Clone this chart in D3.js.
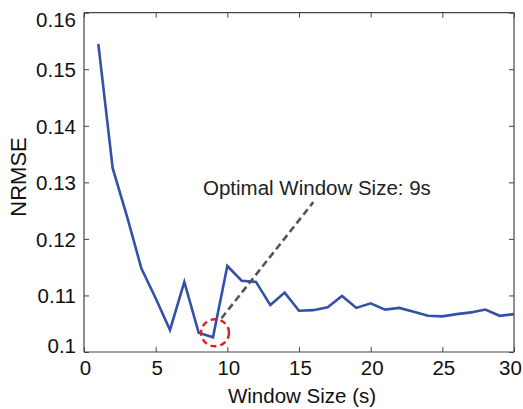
<!DOCTYPE html>
<html><head><meta charset="utf-8">
<script src="https://cdn.jsdelivr.net/npm/d3@7"></script>
<style>body{margin:0;background:#fff}svg{display:block}</style>
</head><body><svg id="c" width="523" height="409"></svg>
<script>
const windowSizes = d3.range(1, 31);
const nrmse = [0.1545,0.1325,0.1240,0.1148,0.1095,0.1039,0.1124,0.1034,0.1026,0.1152,
               0.1126,0.1124,0.1083,0.1105,0.1073,0.1074,0.1079,0.1099,0.1078,0.1086,
               0.1075,0.1078,0.1071,0.1064,0.1063,0.1067,0.1070,0.1075,0.1064,0.1067];
const xTicks = [0,5,10,15,20,25,30];
const yTicks = [0.10,0.11,0.12,0.13,0.14,0.15,0.16];
const yTickLabels = ["0.1","0.11","0.12","0.13","0.14","0.15","0.16"];
const optimal = {x: 9, y: 0.1026, label: "Optimal Window Size: 9s", textX: 16, textY: 0.1265};

const svg = d3.select("#c");
const m = {l:84, r:514, t:12.7, b:352};
const x = d3.scaleLinear().domain([0,30]).range([m.l, m.r]);
const y = d3.scaleLinear().domain([0.1,0.16]).range([m.b, m.t]);
const font = "'Liberation Sans', Arial, sans-serif";
const axC = "#444";

// axes
const gx = svg.append("g").attr("transform", `translate(0,${m.b})`)
  .call(d3.axisBottom(x).tickValues(xTicks).tickSize(-5).tickPadding(0).tickFormat(d3.format("d")));
const gy = svg.append("g").attr("transform", `translate(${m.l},0)`)
  .call(d3.axisLeft(y).tickValues(yTicks).tickSize(-5).tickPadding(0).tickFormat((d,i)=>yTickLabels[i]));
const gxt = svg.append("g").attr("transform", `translate(0,${m.t})`)
  .call(d3.axisTop(x).tickValues(xTicks).tickSize(-5).tickFormat(""));
const gyr = svg.append("g").attr("transform", `translate(${m.r},0)`)
  .call(d3.axisRight(y).tickValues(yTicks).tickSize(-5).tickFormat(""));
[gx,gy,gxt,gyr].forEach(g=>{
  g.selectAll("path.domain").attr("stroke", axC).attr("stroke-width",1.2);
  g.selectAll(".tick line").attr("stroke", axC).attr("stroke-width",1);
  g.selectAll("text").attr("fill","#111").style("font-family",font).style("font-size","20.5px");
});
gxt.selectAll("path.domain").attr("d", `M${m.l},0H${m.r}`);
gyr.selectAll("path.domain").attr("d", `M0,${m.t}V${m.b}`);
gx.selectAll("path.domain").attr("d", `M${m.l},0H${m.r}`);
gy.selectAll("path.domain").attr("d", `M0,${m.t}V${m.b}`);

// x tick labels: baseline at 375; last label pulled inside
gx.selectAll(".tick text").attr("dy", null).attr("y", 23)
  .attr("dx", d => d === 30 ? -4 : 1);
// y tick labels: top label hangs below axis top, bottom label sits on axis
gy.selectAll(".tick text").attr("x", -8)
  .attr("dy", d => d >= 0.159 ? "0.69em" : (d <= 0.1001 ? "0em" : "0.36em"));

// line
svg.append("path")
  .datum(windowSizes.map((w,i)=>[w,nrmse[i]]))
  .attr("fill","none").attr("stroke","#3451a8").attr("stroke-width",2.6)
  .attr("stroke-linejoin","miter")
  .attr("d", d3.line().x(d=>x(d[0])).y(d=>y(d[1])));

// annotation
const cx = x(optimal.x) + 2, cy = y(optimal.y) - 4.5;
svg.append("line")
  .attr("x1", cx+6.5).attr("y1", cy-14.5)
  .attr("x2", x(optimal.textX)).attr("y2", y(optimal.textY))
  .attr("stroke","#555").attr("stroke-width",2.6).attr("stroke-dasharray","7,4");
svg.append("ellipse")
  .attr("cx", cx).attr("cy", cy).attr("rx", 14).attr("ry", 13.5)
  .attr("fill","none").attr("stroke","#e02020").attr("stroke-width",2.4)
  .attr("stroke-dasharray","6,4");
svg.append("text").attr("x", 203).attr("y", 195)
  .attr("fill","#222").style("font-family",font).style("font-size","20.5px")
  .text(optimal.label);

// axis titles
svg.append("text").attr("x", 302).attr("y", 403).attr("text-anchor","middle")
  .attr("fill","#111").style("font-family",font).style("font-size","20.5px").text("Window Size (s)");
svg.append("text").attr("transform", `translate(26,177) rotate(-90)`)
  .attr("text-anchor","middle")
  .attr("fill","#111").style("font-family",font).style("font-size","22px").text("NRMSE");
</script></body></html>
